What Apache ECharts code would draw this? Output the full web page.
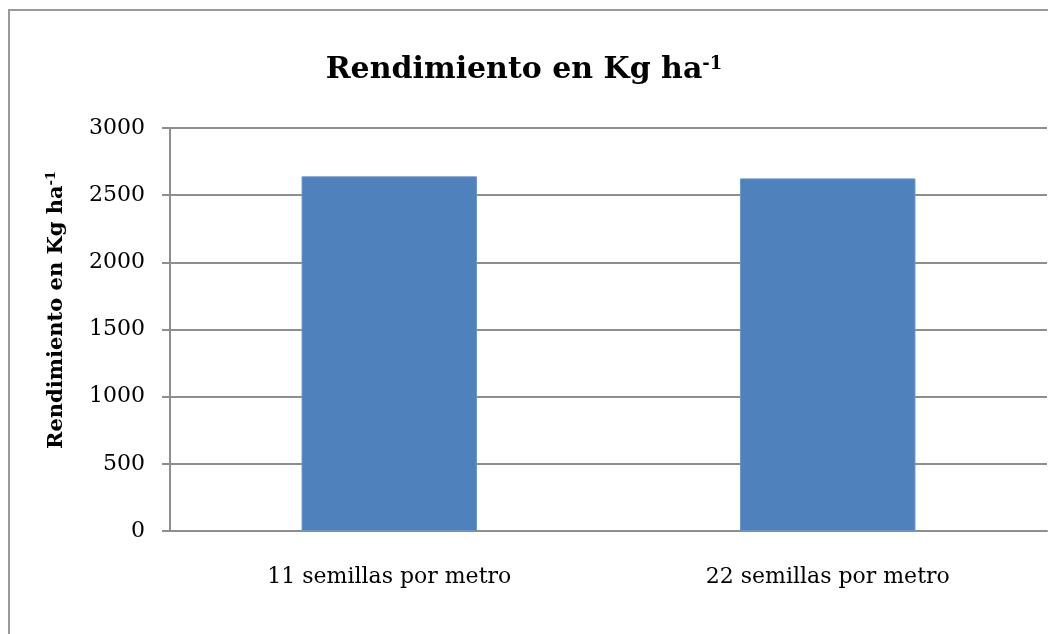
<!DOCTYPE html>
<html>
<head>
<meta charset="utf-8">
<script src="https://cdn.jsdelivr.net/npm/echarts@6/dist/echarts.min.js"></script>
<style>
  html, body { margin: 0; padding: 0; background: #fff; }
  #chart { width: 1048px; height: 634px; }
</style>
</head>
<body>
<div id="chart"></div>
<script>
// valores
const categorias = ['11 semillas por metro', '22 semillas por metro']
const rendimiento = [2640, 2625]
const yTicks = [0, 500, 1000, 1500, 2000, 2500, 3000]
const tituloEje = 'Rendimiento en Kg ha{sup|-1}'

const chart = echarts.init(document.getElementById('chart'))
const serif = '"DejaVu Serif", "Liberation Serif", serif'
const gris = '#8e8e8e'

chart.setOption({
  animation: false,
  textStyle: { fontFamily: serif },
  graphic: [
    {
      type: 'rect',
      shape: { x: 9, y: 10, width: 1200, height: 800 },
      style: { fill: 'none', stroke: '#9a9a9a', lineWidth: 2 },
      silent: true
    },
    {
      // nombre del eje Y, girado
      type: 'text',
      x: 57,
      y: 310,
      rotation: Math.PI / 2,
      style: {
        text: tituloEje,
        fill: '#000',
        font: 'bold 21px ' + serif,
        align: 'center',
        verticalAlign: 'middle',
        rich: {
          sup: { fontSize: 13, fontWeight: 'bold', fontFamily: serif, fill: '#000', verticalAlign: 'top', padding: [0, 0, 10, 0] }
        }
      },
      silent: true
    }
  ],
  title: {
    text: 'Rendimiento en Kg ha{sup|-1}',
    left: 'center',
    top: 50,
    textStyle: {
      fontFamily: serif,
      fontSize: 30,
      fontWeight: 'bold',
      color: '#000',
      rich: {
        sup: { fontSize: 18, fontWeight: 'bold', fontFamily: serif, color: '#000', verticalAlign: 'top', padding: [0, 0, 13, 0] }
      }
    }
  },
  grid: { left: 170, right: 1, top: 128, bottom: 103, containLabel: false },
  xAxis: {
    type: 'category',
    data: categorias,
    axisLine: { show: true, lineStyle: { color: gris, width: 2 } },
    axisTick: { show: false },
    axisLabel: { color: '#000', fontSize: 22, fontFamily: serif, margin: 35 }
  },
  yAxis: {
    type: 'value',
    min: yTicks[0],
    max: yTicks[yTicks.length - 1],
    interval: 500,
    axisLine: { show: true, lineStyle: { color: gris, width: 2 } },
    axisTick: { show: true, inside: false, length: 8, lineStyle: { color: gris, width: 2 } },
    axisLabel: { color: '#000', fontSize: 22, fontFamily: serif, margin: 25, formatter: v => String(v) },
    splitLine: { show: true, lineStyle: { color: gris, width: 2 } }
  },
  series: [
    {
      type: 'bar',
      data: rendimiento,
      barWidth: '40%',
      itemStyle: { color: '#4f81bd', borderColor: '#6a95c8', borderWidth: 1 }
    }
  ]
})
</script>
</body>
</html>
